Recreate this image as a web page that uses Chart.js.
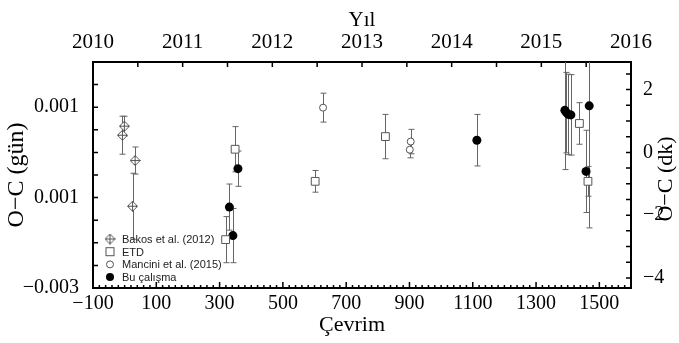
<!DOCTYPE html>
<html>
<head>
<meta charset="utf-8">
<script src="https://cdn.jsdelivr.net/npm/chart.js@4.4.1/dist/chart.umd.min.js"></script>
<style>
  html, body { margin: 0; padding: 0; background: #fff; }
  #wrap { width: 679px; height: 343px; position: relative; }
</style>
</head>
<body>
<div id="wrap"><canvas id="ocChart"></canvas></div>
<script>
// O-C values in days, error bars in days
const bakosCycle = [-7, -1, 33, 25];
const bakosOC = [0.00038, 0.00058, -0.00018, -0.00119];
const bakosErr = [0.00042, 0.00022, 0.00030, 0.00073];

const etdCycle = [319, 349, 602, 824, 1437, 1464];
const etdOC = [-0.00193, 0.00007, -0.00064, 0.00035, 0.00064, -0.00064];
const etdErr = [0.00051, 0.00050, 0.00024, 0.00049, 0.00046, 0.00033];

const manciniCycle = [627, 901, 904];
const manciniOC = [0.00099, 0.00006, 0.00024];
const manciniErr = [0.00032, 0.00018, 0.00027];

const buCycle = [331, 342, 358, 1113, 1391, 1396, 1402, 1410, 1458, 1468];
const buOC = [-0.00121, -0.00184, -0.00036, 0.00027, 0.00093, 0.00088, 0.00084, 0.00083, -0.00042, 0.00103];
const buErr = [0.00051, 0.00060, 0.00039, 0.00057, 0.00131, 0.00089, 0.00089, 0.00089, 0.00091, 0.00270];

// axis ticks
const cycleTicks = [-100, 100, 300, 500, 700, 900, 1100, 1300, 1500];
const yearTicks = [2010, 2011, 2012, 2013, 2014, 2015, 2016];
const dayTicks = [0.001, -0.001, -0.003];
const dayTickLabels = ['0.001', '0.001', '−0.003'];
const minuteTicks = [2, 0, -2, -4];

const DAY_MIN = -0.003, DAY_MAX = 0.002;
const SERIF = '"Liberation Serif", "Times New Roman", serif';
const SANS = '"Liberation Sans", Arial, sans-serif';

const minus = v => (v < 0 ? '−' + Math.abs(v) : String(v));
const pts = (xs, ys) => xs.map((x, i) => ({ x: x, y: ys[i] }));

// diamond with a plus inside, used as point style
function diamondPlus(size, color) {
  const c = document.createElement('canvas');
  c.width = c.height = size;
  const g = c.getContext('2d');
  const h = size / 2;
  g.strokeStyle = color;
  g.fillStyle = '#fff';
  g.lineWidth = 1;
  g.beginPath();
  g.moveTo(h, 0.5); g.lineTo(size - 0.5, h); g.lineTo(h, size - 0.5); g.lineTo(0.5, h);
  g.closePath();
  g.fill(); g.stroke();
  g.beginPath();
  g.moveTo(h, 0.5); g.lineTo(h, size - 0.5);
  g.moveTo(0.5, h); g.lineTo(size - 0.5, h);
  g.stroke();
  return c;
}
const diamondImg = diamondPlus(11, '#555');

const errorBars = {
  id: 'errorBars',
  beforeDatasetsDraw(chart) {
    const { ctx, chartArea: a, scales } = chart;
    ctx.save();
    ctx.beginPath();
    ctx.rect(a.left, a.top, a.right - a.left, a.bottom - a.top);
    ctx.clip();
    ctx.strokeStyle = '#666';
    ctx.lineWidth = 1;
    chart.data.datasets.forEach(ds => {
      ds.data.forEach((p, i) => {
        const x = Math.round(scales.x.getPixelForValue(p.x)) + 0.5;
        const y1 = scales.y.getPixelForValue(p.y + ds.errors[i]);
        const y2 = scales.y.getPixelForValue(p.y - ds.errors[i]);
        ctx.beginPath();
        ctx.moveTo(x, y1); ctx.lineTo(x, y2);
        ctx.moveTo(x - 3, y1); ctx.lineTo(x + 3, y1);
        ctx.moveTo(x - 3, y2); ctx.lineTo(x + 3, y2);
        ctx.stroke();
      });
    });
    ctx.restore();
  }
};

// inward tick marks on all four sides
const tickMarks = {
  id: 'tickMarks',
  afterDraw(chart) {
    const { ctx, chartArea: a, scales } = chart;
    ctx.save();
    ctx.strokeStyle = '#000';
    ctx.lineWidth = 1.5;
    ctx.beginPath();
    for (let v = -100; v <= 1600; v += 20) {
      const px = scales.x.getPixelForValue(v);
      const len = (v + 100) % 200 === 0 ? 6 : 3;
      ctx.moveTo(px, a.bottom); ctx.lineTo(px, a.bottom - len);
    }
    for (let k = 0; k <= 12; k++) {
      const px = scales.xTop.getPixelForValue(2010 + k / 2);
      ctx.moveTo(px, a.top); ctx.lineTo(px, a.top + 5);
    }
    for (let k = 0; k <= 10; k++) {
      const py = scales.y.getPixelForValue(DAY_MIN + k * 0.0005);
      ctx.moveTo(a.left, py); ctx.lineTo(a.left + 5, py);
    }
    for (let k = -8; k <= 5; k++) {
      const py = scales.yRight.getPixelForValue(k / 2);
      ctx.moveTo(a.right, py); ctx.lineTo(a.right - 5, py);
    }
    ctx.stroke();
    ctx.restore();
  }
};

// bottom and right axis titles, and the legend box inside the plot
const extras = {
  id: 'extras',
  afterDraw(chart) {
    const { ctx, chartArea: a } = chart;
    ctx.save();
    ctx.fillStyle = '#000';
    ctx.font = '22px ' + SERIF;
    ctx.textAlign = 'center';
    ctx.textBaseline = 'middle';
    ctx.fillText('Çevrim', (a.left + a.right) / 2 - 10, 325);

    ctx.save();
    ctx.translate(666, (a.top + a.bottom) / 2 + 4);
    ctx.rotate(-Math.PI / 2);
    ctx.fillText('O−C (dk)', 0, 0);
    ctx.restore();

    const items = ['Bakos et al. (2012)', 'ETD', 'Mancini et al. (2015)', 'Bu çalışma'];
    const mx = a.left + 17;
    ctx.font = '11px ' + SANS;
    ctx.textAlign = 'left';
    ctx.lineWidth = 1;
    items.forEach((label, i) => {
      const my = a.bottom - 49 + i * 12.7;
      ctx.strokeStyle = '#555';
      ctx.fillStyle = '#fff';
      if (i === 0) {
        ctx.drawImage(diamondImg, mx - 5.5, my - 5.5);
      } else if (i === 1) {
        ctx.fillRect(mx - 4, my - 4, 8, 8);
        ctx.strokeRect(mx - 4, my - 4, 8, 8);
      } else if (i === 2) {
        ctx.beginPath(); ctx.arc(mx, my, 3.5, 0, Math.PI * 2); ctx.fill(); ctx.stroke();
      } else {
        ctx.fillStyle = '#000';
        ctx.beginPath(); ctx.arc(mx, my, 4, 0, Math.PI * 2); ctx.fill();
      }
      ctx.fillStyle = '#222';
      ctx.fillText(label, mx + 12, my + 1);
    });
    ctx.restore();
  }
};

const ctx = document.getElementById('ocChart').getContext('2d');

new Chart(ctx, {
  type: 'scatter',
  data: {
    datasets: [
      {
        label: 'Bakos et al. (2012)',
        data: pts(bakosCycle, bakosOC),
        errors: bakosErr,
        pointStyle: diamondImg,
        radius: 5
      },
      {
        label: 'ETD',
        data: pts(etdCycle, etdOC),
        errors: etdErr,
        pointStyle: 'rect',
        radius: 5.5,
        borderColor: '#555',
        backgroundColor: '#fff',
        borderWidth: 1
      },
      {
        label: 'Mancini et al. (2015)',
        data: pts(manciniCycle, manciniOC),
        errors: manciniErr,
        pointStyle: 'circle',
        radius: 3.5,
        borderColor: '#555',
        backgroundColor: '#fff',
        borderWidth: 1
      },
      {
        label: 'Bu çalışma',
        data: pts(buCycle, buOC),
        errors: buErr,
        pointStyle: 'circle',
        radius: 4.5,
        borderColor: '#000',
        backgroundColor: '#000',
        borderWidth: 0
      }
    ]
  },
  options: {
    responsive: true,
    maintainAspectRatio: false,
    animation: false,
    layout: { padding: 0 },
    plugins: { legend: { display: false }, tooltip: { enabled: false } },
    scales: {
      x: {
        type: 'linear',
        position: 'bottom',
        min: -100,
        max: 1600,
        afterFit: s => { s.height = 55; },
        afterBuildTicks: s => { s.ticks = cycleTicks.map(v => ({ value: v })); },
        grid: { display: false, drawTicks: false },
        border: { display: true, color: '#000', width: 2 },
        ticks: {
          autoSkip: false, maxRotation: 0, padding: 4, color: '#000',
          font: { family: SERIF, size: 20 },
          callback: v => minus(v)
        }
      },
      xTop: {
        type: 'linear',
        position: 'top',
        min: 2010,
        max: 2016,
        afterFit: s => { s.height = 62; },
        afterBuildTicks: s => { s.ticks = yearTicks.map(v => ({ value: v })); },
        grid: { display: false, drawTicks: false },
        border: { display: true, color: '#000', width: 2 },
        title: {
          display: true, text: 'Yıl', color: '#000',
          font: { family: SERIF, size: 21 }, padding: { top: 8, bottom: 0 }
        },
        ticks: {
          autoSkip: false, maxRotation: 0, padding: 7, color: '#000',
          font: { family: SERIF, size: 21 },
          callback: v => String(v)
        }
      },
      y: {
        type: 'linear',
        position: 'left',
        min: DAY_MIN,
        max: DAY_MAX,
        afterFit: s => { s.width = 93; },
        afterBuildTicks: s => { s.ticks = dayTicks.map(v => ({ value: v })); },
        grid: { display: false, drawTicks: false },
        border: { display: true, color: '#000', width: 2 },
        title: {
          display: true, text: 'O−C (gün)', color: '#000',
          font: { family: SERIF, size: 24 }, padding: { top: 2, bottom: 0 }
        },
        ticks: {
          autoSkip: false, padding: 14, color: '#000',
          font: { family: SERIF, size: 20 },
          callback: (v, i) => dayTickLabels[i]
        }
      },
      yRight: {
        type: 'linear',
        position: 'right',
        min: DAY_MIN * 1440,
        max: DAY_MAX * 1440,
        afterFit: s => { s.width = 48; },
        afterBuildTicks: s => { s.ticks = minuteTicks.map(v => ({ value: v })); },
        grid: { display: false, drawTicks: false },
        border: { display: true, color: '#000', width: 2 },
        ticks: {
          autoSkip: false, padding: 12, color: '#000',
          font: { family: SERIF, size: 20 },
          callback: v => minus(v)
        }
      }
    }
  },
  plugins: [errorBars, tickMarks, extras]
});
</script>
</body>
</html>
